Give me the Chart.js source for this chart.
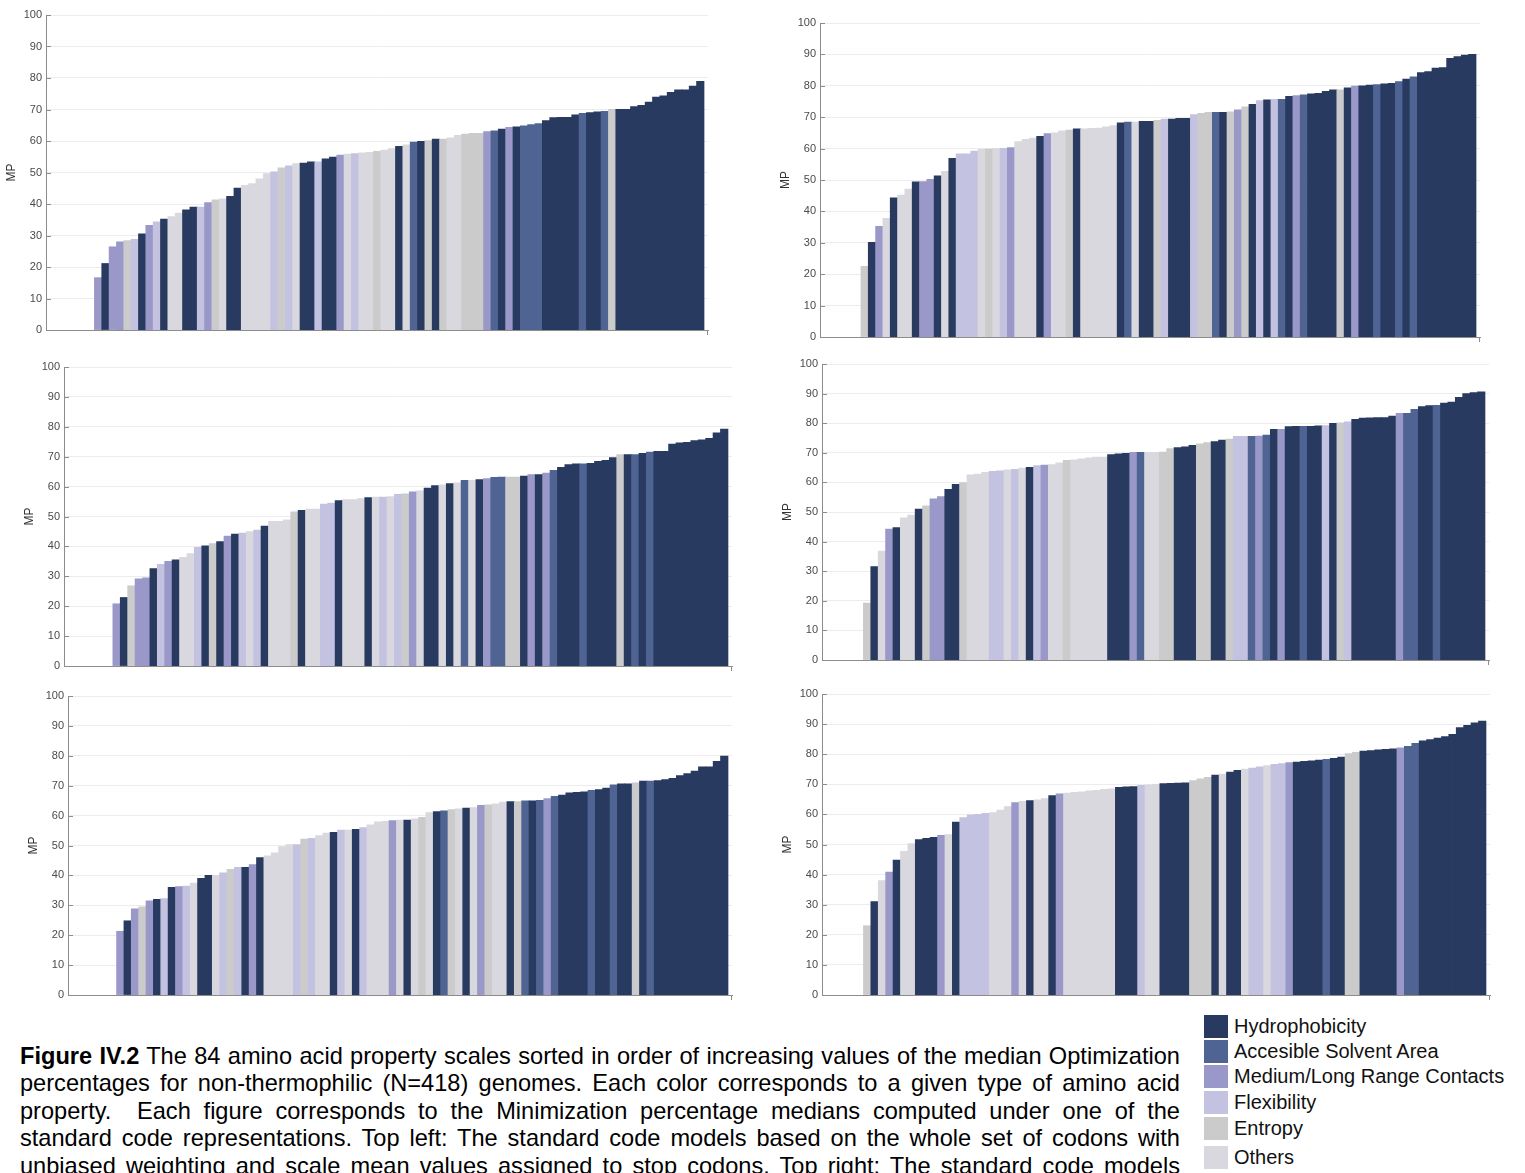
<!DOCTYPE html>
<html>
<head>
<meta charset="utf-8">
<script src="https://cdn.jsdelivr.net/npm/chart.js@4.4.1/dist/chart.umd.min.js"></script>
<style>
  html, body { margin: 0; padding: 0; background: #ffffff; width: 1525px; height: 1173px; overflow: hidden; }
  canvas.panel { position: absolute; }
  #caption { position: absolute; left: 20px; top: 1043px; width: 1160px;
    font-family: "Liberation Sans", Arial, sans-serif; font-size: 23.6px; line-height: 27.4px; color: #000; }
  #caption div { text-align: justify; text-align-last: justify; white-space: nowrap; }
  #legend { position: absolute; left: 1204px; top: 1015px; font-family: "Liberation Sans", Arial, sans-serif;
    font-size: 20px; color: #111; }
  #legend .row { position: absolute; left: 0; height: 24px; white-space: nowrap; }
  #legend .sw { position: absolute; left: 0; top: 0; width: 24px; height: 23px; }
  #legend .lb { position: absolute; left: 30px; top: 0; line-height: 23px; }
</style>
</head>
<body>
<canvas id="p1" class="panel"></canvas>
<canvas id="p2" class="panel"></canvas>
<canvas id="p3" class="panel"></canvas>
<canvas id="p4" class="panel"></canvas>
<canvas id="p5" class="panel"></canvas>
<canvas id="p6" class="panel"></canvas>

<div id="caption">
  <div><b>Figure IV.2</b> The 84 amino acid property scales sorted in order of increasing values of the median Optimization</div>
  <div>percentages for non-thermophilic (N=418) genomes. Each color corresponds to a given type of amino acid</div>
  <div>property.&nbsp; Each figure corresponds to the Minimization percentage medians computed under one of the</div>
  <div>standard code representations. Top left: The standard code models based on the whole set of codons with</div>
  <div>unbiased weighting and scale mean values assigned to stop codons. Top right: The standard code models</div>
</div>
<div id="legend"></div>

<script>
// Property classes: code -> legend label
const classCodes  = ['H', 'A', 'M', 'F', 'E', 'O'];
const classLabels = ['Hydrophobicity', 'Accesible Solvent Area', 'Medium/Long Range Contacts', 'Flexibility', 'Entropy', 'Others'];
const classColors = ['#283a5f', '#4f6492', '#9a98c9', '#c3c2e0', '#cbcbcb', '#d9d8de'];

// Median MP per scale, sorted ascending, with the class of each scale
const topLeftValues = [16.6,21.1,26.4,28.0,28.4,28.8,30.5,33.2,34.3,35.2,
  36.0,37.1,38.1,39.0,39.0,40.4,41.3,41.6,42.4,45.0,
  45.9,46.5,48.0,49.6,50.2,51.5,52.1,52.8,53.0,53.4,
  53.4,54.3,54.9,55.5,55.8,56.0,56.2,56.4,56.7,57.1,
  57.6,58.3,58.8,59.6,59.9,60.1,60.6,60.6,61.0,61.8,
  62.2,62.4,62.4,63.0,63.2,63.8,64.3,64.5,64.8,65.2,
  65.5,66.5,67.4,67.5,67.5,68.3,68.8,69.0,69.2,69.4,
  70.0,70.0,70.0,70.9,71.3,72.3,73.9,74.3,75.4,76.2,
  76.2,77.4,78.9];
const topLeftClasses = ['M','H','M','M','E','F','H','M','F','H',
  'O','O','H','H','F','M','E','O','H','H',
  'O','O','O','O','F','E','F','O','H','H',
  'F','H','H','M','O','F','O','O','E','O',
  'O','H','O','A','H','E','H','E','O','O',
  'E','E','E','M','A','H','M','H','A','A',
  'A','H','H','H','H','H','A','H','H','A',
  'E','H','H','H','H','H','H','H','H','H',
  'H','H','H'];

const topRightValues = [22.5,30.1,35.2,37.8,44.3,45.2,47.1,49.4,49.5,50.2,
  51.3,52.7,56.9,58.3,58.3,59.2,59.8,59.8,60.0,60.1,
  60.3,62.2,62.9,63.3,63.9,64.8,65.0,65.6,65.9,66.3,
  66.3,66.4,66.5,66.9,67.3,68.2,68.4,68.4,68.7,68.7,
  69.0,69.4,69.4,69.6,69.6,70.8,71.2,71.5,71.5,71.5,
  71.7,72.3,73.3,74.1,75.3,75.5,75.7,75.7,76.6,76.9,
  77.1,77.4,77.6,78.2,78.7,78.7,79.3,79.9,80.0,80.2,
  80.4,80.6,80.8,81.3,82.1,82.8,84.2,84.5,85.6,85.8,
  88.7,89.3,89.8,90.0];
const topRightClasses = ['E','H','M','O','H','O','O','H','M','M',
  'H','O','H','F','F','F','O','E','O','F',
  'M','O','O','O','H','M','O','O','E','H',
  'O','O','O','O','O','H','A','O','H','H',
  'E','F','H','H','H','F','E','E','A','H',
  'E','M','E','H','F','H','F','A','H','M',
  'A','H','H','H','H','E','H','M','H','H',
  'A','H','H','A','H','A','H','H','H','H',
  'H','H','H','H'];

const midLeftValues = [20.8,22.9,26.8,29.1,29.5,32.6,34.0,35.0,35.5,36.3,
  37.6,39.7,40.2,40.9,41.6,43.4,44.1,44.4,44.9,45.4,
  46.8,48.4,48.4,48.9,51.5,52.0,52.5,52.5,54.1,54.5,
  55.3,55.6,55.6,56.0,56.3,56.5,56.5,56.6,57.4,57.6,
  58.2,58.6,59.5,60.3,60.6,61.0,61.2,62.1,62.1,62.3,
  62.7,63.1,63.2,63.2,63.2,63.5,64.0,64.0,64.5,65.4,
  66.4,67.3,67.6,67.6,67.8,68.4,68.8,69.7,70.7,70.7,
  70.7,71.1,71.5,71.8,71.8,74.2,74.6,74.8,75.4,75.6,
  76.1,78.0,79.2];
const midLeftClasses = ['M','H','E','M','M','H','F','M','H','O',
  'O','F','H','E','H','M','H','F','O','F',
  'H','O','O','O','E','H','O','O','F','F',
  'H','O','O','O','H','O','F','O','F','E',
  'M','O','H','H','O','H','O','A','O','H',
  'M','A','A','E','E','H','M','H','M','A',
  'H','H','H','A','H','H','H','H','E','H',
  'A','H','A','H','H','H','H','H','H','H',
  'H','H','H'];

const midRightValues = [19.2,31.5,36.8,44.2,44.7,48.0,48.9,51.0,52.1,54.4,
  55.2,57.6,59.3,59.9,62.5,62.8,63.4,63.7,63.9,64.2,
  64.4,64.8,65.1,65.7,65.8,66.0,66.6,67.4,67.6,67.9,
  68.3,68.5,68.5,69.4,69.6,69.8,70.1,70.1,70.1,70.1,
  70.2,71.4,71.7,72.0,72.5,73.0,73.4,73.8,74.3,74.6,
  75.5,75.5,75.5,75.6,76.0,77.9,77.9,78.8,78.9,78.9,
  78.9,79.1,79.2,79.9,80.1,80.4,81.3,81.7,81.8,81.9,
  81.9,82.4,83.3,83.3,84.7,85.6,85.9,86.0,86.8,87.1,
  88.7,90.0,90.3,90.6];
const midRightClasses = ['E','H','O','M','H','O','O','H','E','M',
  'M','H','H','E','O','O','O','F','F','O',
  'F','O','H','F','M','O','O','E','O','O',
  'O','O','O','H','H','H','M','A','O','O',
  'E','E','H','H','H','E','E','H','H','E',
  'F','F','A','M','A','H','M','H','H','A',
  'H','H','F','H','E','F','H','H','H','H',
  'H','H','M','A','A','H','H','A','H','H',
  'H','H','H','H'];

const bottomLeftValues = [21.3,24.8,28.8,29.5,31.5,32.0,32.2,36.0,36.2,36.4,
  37.4,39.0,40.0,40.0,40.8,42.0,42.7,42.7,43.6,45.9,
  46.5,47.5,49.6,50.3,50.3,52.1,52.4,53.3,54.1,54.4,
  55.1,55.1,55.4,56.0,56.9,57.9,58.1,58.3,58.5,58.5,
  58.9,59.4,61.0,61.3,61.6,62.0,62.2,62.5,62.7,63.4,
  63.6,63.9,64.5,64.7,64.7,64.9,64.9,65.1,65.7,66.4,
  66.8,67.6,67.8,67.9,68.4,68.7,69.2,70.3,70.6,70.6,
  70.9,71.5,71.5,71.7,72.0,72.4,73.4,74.0,74.9,76.3,
  76.3,78.1,79.9];
const bottomLeftClasses = ['M','H','M','E','M','H','F','H','M','F',
  'O','H','H','O','F','E','F','H','M','H',
  'O','O','O','O','F','E','F','O','O','H',
  'F','O','H','F','O','O','O','M','O','H',
  'O','E','O','H','A','E','O','H','O','M',
  'E','O','O','H','E','A','H','A','M','A',
  'H','H','H','H','A','H','H','A','H','H',
  'E','H','A','H','H','H','H','H','H','H',
  'H','H','H'];

const bottomRightValues = [23.0,31.0,38.0,40.8,44.8,47.7,50.3,51.6,52.0,52.4,
  53.0,53.3,57.4,58.9,59.8,60.0,60.3,60.6,61.4,62.6,
  63.9,64.3,64.6,64.8,65.2,66.2,66.8,67.1,67.3,67.5,
  67.8,68.0,68.3,68.5,69.0,69.1,69.2,69.6,69.8,70.0,
  70.2,70.3,70.4,70.5,71.2,71.8,72.3,73.0,73.4,74.0,
  74.6,75.0,75.4,75.8,76.2,76.6,76.9,77.2,77.4,77.6,
  77.8,78.0,78.3,78.6,79.0,80.2,80.6,81.0,81.2,81.4,
  81.6,81.8,82.1,82.6,83.6,84.4,84.8,85.3,85.8,86.6,
  88.8,89.6,90.4,91.0];
const bottomRightClasses = ['E','H','O','M','H','O','O','H','H','H',
  'M','O','H','F','F','F','F','O','O','O',
  'M','O','H','O','O','H','M','O','O','O',
  'O','O','O','O','H','H','H','F','O','O',
  'H','H','H','H','E','E','E','H','O','H',
  'H','O','F','F','O','F','F','M','H','H',
  'H','H','A','H','H','E','E','H','H','H',
  'H','H','M','A','A','H','H','H','H','H',
  'H','H','H','H'];

// Shared category axis: 84 scale slots; panels with fewer scales are right-aligned
const SLOTS = 84;
const X_MIN = -5.1, X_MAX = 85.05;
const yTicks = [0, 10, 20, 30, 40, 50, 60, 70, 80, 90, 100];

// Plot boxes (left, right, top, bottom) of the six panels
const panels = [
  { id: 'p1', values: topLeftValues,     classes: topLeftClasses,     L: 46,    R: 708,  T: 14.5, B: 330 },
  { id: 'p2', values: topRightValues,    classes: topRightClasses,    L: 820,   R: 1480, T: 22.5, B: 336.5 },
  { id: 'p3', values: midLeftValues,     classes: midLeftClasses,     L: 63.5,  R: 732,  T: 366.5, B: 665.5 },
  { id: 'p4', values: midRightValues,    classes: midRightClasses,    L: 821.5, R: 1489, T: 364,  B: 659.5 },
  { id: 'p5', values: bottomLeftValues,  classes: bottomLeftClasses,  L: 67.5,  R: 732,  T: 696,  B: 994.5 },
  { id: 'p6', values: bottomRightValues, classes: bottomRightClasses, L: 822,   R: 1490, T: 694,  B: 995 }
];

// Room around each plot box: y-axis strip, top margin, right margin, x-axis strip
const AXIS_W = 46, PAD_T = 14, PAD_R = 4, X_H = 14;
const axisGray = '#8c8c8c';

const innerTicks = {
  id: 'innerTicks',
  afterDraw(chart) {
    const { ctx, chartArea, scales } = chart;
    ctx.save();
    ctx.strokeStyle = axisGray;
    ctx.lineWidth = 1;
    scales.y.ticks.forEach(t => {
      const y = Math.round(scales.y.getPixelForValue(t.value)) + 0.5;
      ctx.beginPath();
      ctx.moveTo(chartArea.left, y);
      ctx.lineTo(chartArea.left + 5, y);
      ctx.stroke();
    });
    const xr = Math.round(scales.x.getPixelForValue(X_MAX)) - 0.5;
    ctx.beginPath();
    ctx.moveTo(xr, chartArea.bottom);
    ctx.lineTo(xr, chartArea.bottom + 5);
    ctx.stroke();
    ctx.restore();
  }
};

function colorOf(code) { return classColors[classCodes.indexOf(code)]; }

panels.forEach(p => {
  const cv = document.getElementById(p.id);
  const left = Math.round(p.L - AXIS_W);
  const top = Math.round(p.T - PAD_T);
  const w = Math.round(p.R) + PAD_R - left;
  const h = Math.round(p.B) + X_H - top;
  cv.width = w; cv.height = h;
  cv.style.left = left + 'px';
  cv.style.top = top + 'px';
  cv.style.width = w + 'px'; cv.style.height = h + 'px';

  const shift = SLOTS - p.values.length;
  const points = p.values.map((v, i) => ({ x: i + 1 + shift, y: v }));

  new Chart(cv, {
    type: 'bar',
    data: {
      datasets: [{
        data: points,
        backgroundColor: p.classes.map(colorOf),
        borderWidth: 0,
        barPercentage: 1,
        categoryPercentage: 1,
        inflateAmount: 0.4
      }]
    },
    options: {
      responsive: false,
      animation: false,
      devicePixelRatio: 1,
      layout: { padding: { top: PAD_T, right: PAD_R, left: 0, bottom: 0 } },
      plugins: { legend: { display: false }, tooltip: { enabled: false } },
      scales: {
        x: {
          type: 'linear', min: X_MIN, max: X_MAX, offset: false,
          ticks: { display: false },
          grid: { display: false, drawTicks: false },
          border: { display: true, color: axisGray, width: 1 },
          afterFit(s) { s.height = X_H; }
        },
        y: {
          min: 0, max: 100,
          afterBuildTicks(s) { s.ticks = yTicks.map(v => ({ value: v })); },
          ticks: { padding: 4, color: '#4a4a4a', font: { family: 'Liberation Sans', size: 11 } },
          grid: { color: '#ececec', lineWidth: 1, drawTicks: false },
          border: { display: true, color: axisGray, width: 1 },
          title: { display: true, text: 'MP', color: '#333333', padding: { top: 4, bottom: 0 },
                   font: { family: 'Liberation Sans', size: 12 } },
          afterFit(s) { s.width = AXIS_W; }
        }
      }
    },
    plugins: [innerTicks]
  });
});

// Legend of property classes
const legend = document.getElementById('legend');
const legendTops = [0, 25, 50, 76, 102, 131];
classLabels.forEach((label, i) => {
  const row = document.createElement('div');
  row.className = 'row';
  row.style.top = legendTops[i] + 'px';
  row.innerHTML = '<div class="sw" style="background:' + classColors[i] + '"></div><div class="lb">' + label + '</div>';
  legend.appendChild(row);
});
</script>
</body>
</html>
